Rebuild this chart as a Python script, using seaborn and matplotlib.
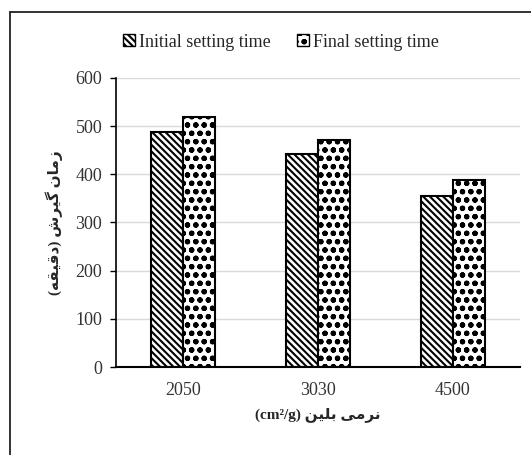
import pandas as pd
import seaborn as sns
import matplotlib.pyplot as plt
from matplotlib.lines import Line2D

# values
fineness = ['2050', '3030', '4500']
initial_time = [488, 443, 355]
final_time = [519, 471, 388]
series = ['Initial setting time', 'Final setting time']
yticks = [0, 100, 200, 300, 400, 500, 600]

# Persian labels, shaped by hand (presentation forms, visual order)
ylabel = ('(\uFEEA\uFED8\uFBFF\uFED7\uFEA9) '
          '\uFEB5\uFEAE\uFBFF\uFB94 '
          '\uFEE5\uFE8E\uFEE3\uFEAF')
xlabel = ('(cm\u00b2/g) '
          '\uFEE6\uFBFF\uFEE0\uFE91 '
          '\uFBFD\uFEE3\uFEAE\uFEE7')

data = pd.DataFrame({
    'fineness': fineness * 2,
    'time': initial_time + final_time,
    'type': [series[0]] * 3 + [series[1]] * 3,
})

sns.set_style('white')
plt.rcParams['font.family'] = ['Liberation Serif', 'DejaVu Sans']
plt.rcParams['hatch.linewidth'] = 1.5
plt.rcParams['hatch.color'] = 'black'

fig = plt.figure(figsize=(5.31, 4.55), dpi=100)
ax = fig.add_axes([0.2185, 0.1934, 0.7605, 0.6352])

sns.barplot(data=data, x='fineness', y='time', hue='type', order=fineness,
            hue_order=series, width=0.475, gap=0, ax=ax, legend=True)

hatches = ['\\\\\\\\\\', 'oo..']
for cont, h in zip(ax.containers, hatches):
    for bar in cont:
        bar.set_facecolor('white')
        bar.set_edgecolor('black')
        bar.set_linewidth(1.5)
        bar.set_hatch(h)

ax.set_ylim(0, 600)
ax.set_yticks(yticks)
ax.set_xlim(-0.5, 2.5)
ax.yaxis.grid(True, color='#d9d9d9', linewidth=1)
ax.set_axisbelow(True)
for s in ['top', 'right']:
    ax.spines[s].set_visible(False)
ax.spines['left'].set_color('black')
ax.spines['left'].set_linewidth(1.2)
ax.spines['bottom'].set_color('black')
ax.spines['bottom'].set_linewidth(1.5)
ax.tick_params(axis='y', length=4, width=1, color='black', labelsize=13,
               labelcolor='#333333', pad=6, left=True)
ax.tick_params(axis='x', length=0, labelsize=13, labelcolor='#333333', pad=11)

ax.set_xlabel(xlabel, fontsize=11, fontweight='bold', labelpad=6)
ax.set_ylabel(ylabel, fontsize=11, fontweight='bold', labelpad=9)

handles, labels = ax.get_legend_handles_labels()
for hnd, h in zip(handles, hatches):
    hnd.set_facecolor('white')
    hnd.set_edgecolor('black')
    hnd.set_hatch(h)
ax.legend(handles, labels, loc='lower left', bbox_to_anchor=(0.0, 1.07),
          ncol=2, frameon=False, fontsize=13, handlelength=0.65,
          handleheight=0.65, handletextpad=0.2, columnspacing=1.5,
          borderaxespad=0)

# outer frame (left and top edges)
fig.add_artist(Line2D([10 / 531, 10 / 531], [0, 1 - 12 / 455],
                      color='#222222', linewidth=1.3))
fig.add_artist(Line2D([10 / 531, 1], [1 - 12 / 455, 1 - 12 / 455],
                      color='#222222', linewidth=1.3))

fig.savefig('out.png', dpi=100)
